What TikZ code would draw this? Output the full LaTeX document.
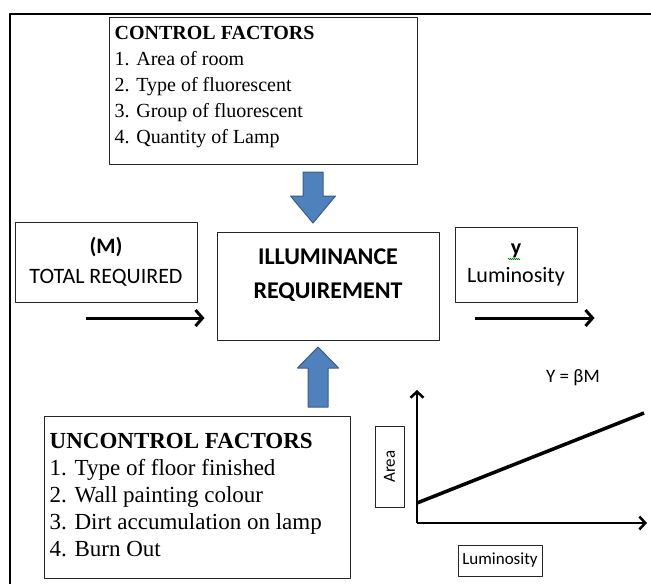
\documentclass[tikz,border=0pt]{standalone}
\usepackage{fontspec}
\setmainfont{Liberation Serif}
\newfontfamily\calibri{Carlito}
\usetikzlibrary{arrows.meta,calc,decorations.pathmorphing}

\definecolor{blockblue}{HTML}{4F81BD}
\definecolor{blockedge}{HTML}{385D8A}

\begin{document}
\begin{tikzpicture}[x=1pt, y=-1pt,
	line join=round,
	frame/.style={black, line width=2pt},
	box/.style={draw=black!85, line width=1pt, inner sep=0pt},
	listtext/.style={anchor=north west, inner sep=0pt, align=left},
	flow/.style={black, line width=3pt, -{Straight Barb[length=7pt, width=16pt]}},
	block/.style={fill=blockblue, draw=blockedge, line width=1pt},
	axis/.style={black, line width=2.5pt, -{Straight Barb[length=6pt, width=13pt]}},
	trend/.style={black, line width=3.5pt}]

	\useasboundingbox (0,0) rectangle (651,584);

	% outer frame
	\draw [frame] (10,584) -- (10,14) -- (651,14);

	% control factors
	\node [box, minimum width=308pt, minimum height=147pt] (ctrl) at (263,90.5) {};
	\node [listtext, font=\fontsize{20}{26}\selectfont] (ctrltext) at 
	([shift={(6,10)}]ctrl.north west)
	{\textbf{CONTROL FACTORS}\\1. Area of room\\2. Type of fluorescent\\
		3. Group of fluorescent\\4. Quantity of Lamp};

	% main process
	\node [box, minimum width=222pt, minimum height=108pt] (illum) at (328,286) {};
	\node [inner sep=0pt, align=center, font=\calibri\bfseries\fontsize{24}{34}\selectfont] 
	(illumtext) at ([shift={(0,-11)}]illum.center) {ILLUMINANCE\\REQUIREMENT};

	% input and output
	\node [box, minimum width=182pt, minimum height=80pt, align=center, 
	font=\calibri\fontsize{22}{30}\selectfont] (total) at (106,262) 
	{\textbf{(M)}\\TOTAL REQUIRED};
	\node [box, minimum width=122pt, minimum height=75pt, align=center, 
	font=\calibri\fontsize{22}{28}\selectfont] (lum) at (516,264.5) 
	{\textbf{y}\\Luminosity};
	\draw [green!55!black, line width=0.6pt, decorate, 
	decoration={zigzag, amplitude=0.7pt, segment length=2pt}] 
	($(lum.center)+(-8,-5.5)$) -- ($(lum.center)+(4,-5.5)$);

	\coordinate (inL) at (86,318);
	\draw [flow] (inL) -- ($(illum.west |- inL)+(-12,0)$);
	\draw [flow] ($(lum.west |- inL)+(20,0)$) -- ($(lum.east |- inL)+(17,0)$);

	% block arrows
	\coordinate (dtail) at (313,172);
	\coordinate (dtip) at (313,223);
	\draw [block] ($(dtail)+(-10,0)$) -- ($(dtail)+(10,0)$) -- ($(dtip)+(10,-27)$) -- 
	($(dtip)+(22.5,-27)$) -- (dtip) -- ($(dtip)+(-22.5,-27)$) -- ($(dtip)+(-10,-27)$) -- cycle;

	\coordinate (utail) at (318,407);
	\coordinate (utip) at (318,347);
	\draw [block] ($(utail)+(-10,0)$) -- ($(utail)+(10,0)$) -- ($(utip)+(10,21)$) -- 
	($(utip)+(20.5,21)$) -- (utip) -- ($(utip)+(-20.5,21)$) -- ($(utip)+(-10,21)$) -- cycle;

	% uncontrol factors
	\node [box, minimum width=306pt, minimum height=162pt] (unctrl) at (197,497) {};
	\node [listtext, font=\fontsize{23}{27}\selectfont] (unctrltext) at 
	([shift={(6,18)}]unctrl.north west)
	{\textbf{UNCONTROL FACTORS}\\1. Type of floor finished\\2. Wall painting colour\\
		3. Dirt accumulation on lamp\\4. Burn Out};

	% graph
	\coordinate (orig) at (417,523);
	\draw [axis] (orig) -- (417,390);
	\draw [axis] (orig) -- (647,523);
	\draw [trend] ($(orig)+(0,-20)$) -- (644,413);

	\node [box, rotate=90, minimum width=81pt, minimum height=29pt, 
	font=\calibri\fontsize{17}{20}\selectfont] (area) at (389.5,466.5) {Area};
	\node [box, minimum width=84pt, minimum height=31pt, 
	font=\calibri\fontsize{17}{20}\selectfont] (lumx) at (500,560.5) {Luminosity};
	\node [font=\calibri\fontsize{19}{22}\selectfont] (eq) at (573,378) {Y = βM};

\end{tikzpicture}
\end{document}
